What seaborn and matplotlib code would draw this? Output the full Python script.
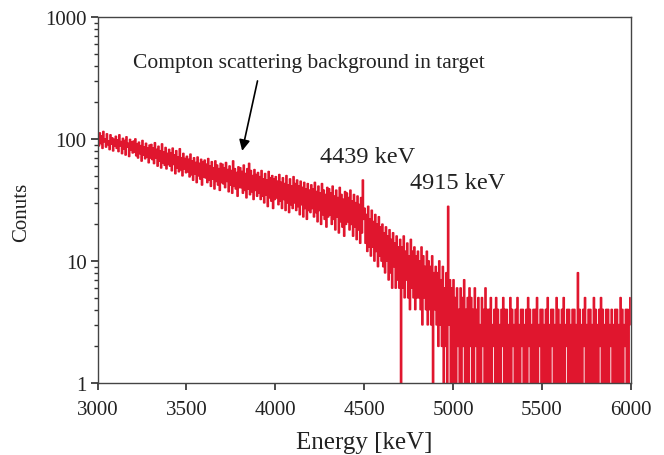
import numpy as np
import pandas as pd
import seaborn as sns
import matplotlib.pyplot as plt

# counts, 5 keV bins, one row = 100 keV, starting at 3000 keV
counts_3000 = [104, 88, 112, 92, 106, 84, 115, 95, 100, 86, 110, 90, 96, 82, 108, 91, 102, 80, 99, 88,
               105, 84, 98, 79, 108, 88, 95, 76, 101, 83, 97, 74, 104, 86, 92, 72, 99, 81, 94, 77,
               96, 78, 100, 73, 91, 70, 94, 76, 88, 66, 97, 74, 86, 69, 92, 71, 84, 64, 89, 70,
               90, 68, 84, 63, 93, 70, 82, 60, 87, 66, 80, 58, 91, 64, 78, 61, 85, 57, 76, 62,
               82, 60, 77, 55, 84, 62, 74, 52, 80, 58, 71, 54, 83, 56, 70, 50, 76, 57, 69, 53]
counts_3500 = [72, 54, 68, 49, 75, 51, 66, 46, 70, 52, 64, 44, 71, 50, 63, 47, 68, 42, 65, 49,
               67, 48, 62, 44, 69, 46, 60, 41, 65, 47, 58, 39, 66, 45, 61, 42, 57, 38, 63, 44,
               62, 43, 58, 40, 64, 45, 56, 37, 60, 42, 55, 36, 66, 41, 57, 39, 53, 34, 59, 40,
               58, 40, 54, 36, 61, 38, 52, 33, 57, 39, 63, 35, 55, 37, 50, 32, 56, 38, 51, 34,
               53, 36, 49, 32, 55, 34, 47, 30, 52, 35, 46, 28, 54, 33, 48, 31, 50, 27, 47, 32]
counts_4000 = [49, 33, 45, 29, 51, 31, 44, 27, 48, 32, 43, 26, 50, 30, 42, 25, 47, 29, 41, 27,
               49, 30, 43, 26, 46, 28, 41, 24, 45, 29, 40, 23, 44, 27, 39, 22, 43, 26, 38, 25,
               42, 27, 39, 23, 44, 25, 37, 21, 41, 26, 36, 20, 43, 24, 38, 22, 35, 19, 40, 23,
               39, 24, 36, 20, 41, 22, 34, 18, 38, 23, 33, 17, 40, 21, 35, 19, 32, 16, 37, 20,
               36, 21, 33, 18, 38, 20, 31, 16, 35, 19, 30, 15, 34, 18, 29, 14, 33, 17, 46, 22]
counts_4500 = [27, 14, 24, 12, 28, 13, 22, 11, 26, 13, 21, 10, 24, 12, 20, 9, 23, 11, 19, 10,
               20, 9, 17, 8, 19, 10, 16, 7, 18, 8, 15, 6, 17, 9, 14, 6, 16, 7, 13, 6,
               15, 0, 13, 6, 16, 5, 12, 7, 14, 5, 11, 4, 15, 6, 12, 5, 13, 4, 11, 5,
               12, 5, 10, 4, 13, 3, 11, 5, 9, 4, 12, 3, 10, 4, 9, 3, 11, 0, 8, 4,
               9, 3, 8, 2, 10, 3, 7, 2, 9, 0, 6, 2, 8, 1, 28, 3, 7, 1, 6, 0]
counts_5000 = [7, 1, 5, 0, 6, 2, 4, 1, 6, 0, 5, 2, 7, 1, 4, 0, 5, 1, 6, 2,
               5, 0, 4, 1, 6, 2, 4, 0, 5, 1, 3, 0, 5, 2, 4, 1, 6, 0, 4, 1,
               4, 1, 5, 0, 3, 2, 4, 0, 5, 1, 4, 0, 3, 1, 4, 2, 5, 0, 4, 1,
               4, 0, 3, 1, 5, 0, 4, 2, 3, 0, 4, 1, 5, 1, 3, 0, 4, 2, 4, 0,
               3, 1, 4, 0, 5, 2, 4, 0, 3, 1, 4, 0, 4, 1, 5, 0, 3, 2, 4, 1]
counts_5500 = [4, 0, 3, 1, 4, 0, 5, 1, 3, 0, 4, 2, 4, 0, 3, 1, 5, 0, 4, 1,
               3, 0, 4, 1, 5, 0, 3, 2, 4, 0, 4, 1, 3, 0, 4, 1, 4, 0, 3, 1,
               8, 0, 4, 1, 3, 0, 4, 2, 5, 0, 3, 1, 4, 0, 4, 1, 3, 0, 5, 1,
               4, 0, 3, 1, 4, 2, 5, 0, 4, 1, 3, 0, 4, 1, 4, 0, 3, 2, 4, 0,
               3, 1, 4, 0, 4, 1, 3, 0, 5, 1, 4, 0, 3, 2, 4, 0, 4, 1, 3, 5]

counts = counts_3000 + counts_3500 + counts_4000 + counts_4500 + counts_5000 + counts_5500
energy = [3000 + 5 * i for i in range(len(counts))]
df = pd.DataFrame({"Energy": energy, "Counts": counts})

sns.set_theme(style="ticks")
plt.rcParams['font.family'] = ['Liberation Serif', 'DejaVu Serif']

fig = plt.figure(figsize=(6.64, 4.56), dpi=100)
ax = fig.add_axes([0.147, 0.158, 0.803, 0.8025])

red = "#E0162E"
sns.lineplot(data=df, x="Energy", y="Counts", estimator=None, color=red,
             linewidth=1.3, drawstyle="steps-post", ax=ax)
ax.set_yscale("log")
ax.set_xlim(3000, 6000)
ax.set_ylim(1, 1000)
ax.set_xticks([3000, 3500, 4000, 4500, 5000, 5500, 6000])
ax.set_yticks([1, 10, 100, 1000])
ax.set_yticklabels(["1", "10", "100", "1000"])

for s in ax.spines.values():
    s.set_color("#444444")
    s.set_linewidth(1.0)
ax.tick_params(axis="x", which="major", direction="out", length=5,
               color="#333333", labelsize=15, labelcolor="#222222", pad=7)
ax.tick_params(axis="y", which="major", direction="out", length=5,
               color="#333333", labelsize=15, labelcolor="#222222", pad=3)
ax.tick_params(axis="y", which="minor", direction="out", length=3, color="#333333")
ax.tick_params(axis="x", which="minor", bottom=False)

ax.set_xlabel("Energy [keV]", fontsize=18, color="#222222", labelpad=9)
ax.set_ylabel("Conuts", fontsize=15, color="#222222")
ax.yaxis.set_label_coords(-0.125, 0.47)

ax.text(3197, 420, "Compton scattering background in target", fontsize=15.5,
        color="#222222", va="center")
ax.annotate("", xy=(3810, 76), xytext=(3903, 315),
            arrowprops=dict(arrowstyle="-|>", color="black", lw=1.2, mutation_scale=16))
ax.text(4249, 72, "4439 keV", fontsize=17.5, color="#222222", va="center")
ax.text(4756, 43.6, "4915 keV", fontsize=17.5, color="#222222", va="center")

fig.savefig("out.png", dpi=100)
